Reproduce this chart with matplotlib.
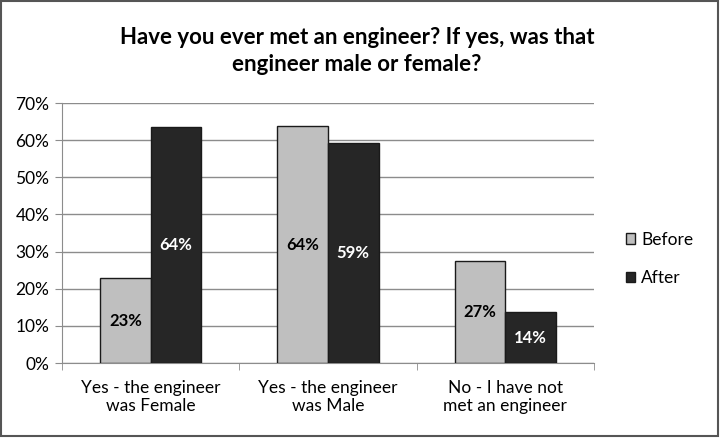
import matplotlib
matplotlib.use("Agg")
import matplotlib.pyplot as plt
import numpy as np
from matplotlib.patches import Rectangle

categories = ["Yes - the engineer\nwas Female", "Yes - the engineer\nwas Male", "No - I have not\nmet an engineer"]
before = [22.8, 63.7, 27.4]
after = [63.6, 59.1, 13.7]
before_labels = ["23%", "64%", "27%"]
after_labels = ["64%", "59%", "14%"]
yticks = [0, 10, 20, 30, 40, 50, 60, 70]

plt.rcParams['font.family'] = ['Lato', 'DejaVu Sans']

fig = plt.figure(figsize=(7.22, 4.38), dpi=100)
ax = fig.add_axes([62/722, 1-363/438, (594-62)/722, 260/438])

x = np.arange(len(categories))
w = 0.285
b1 = ax.bar(x - w/2, before, w, color="#BFBFBF", edgecolor="#1a1a1a", linewidth=1.0, label="Before", zorder=3)
b2 = ax.bar(x + w/2, after, w, color="#262626", edgecolor="#1a1a1a", linewidth=1.0, label="After", zorder=3)

for xi, v, lab in zip(x, before, before_labels):
    ax.text(xi - w/2, v/2, lab, ha="center", va="center", fontsize=12, fontweight="bold", color="black", zorder=4)
for xi, v, lab in zip(x, after, after_labels):
    ax.text(xi + w/2, v/2, lab, ha="center", va="center", fontsize=12, fontweight="bold", color="white", zorder=4)

ax.set_xlim(-0.5, 2.5)
ax.set_ylim(0, 70)
ax.set_yticks(yticks)
ax.set_yticklabels([f"{t}%" for t in yticks], fontsize=12.5)
ax.yaxis.grid(True, color="#8c8c8c", linewidth=1.0, zorder=0)
ax.set_axisbelow(True)
ax.set_xticks(x)
ax.set_xticklabels(categories, fontsize=12.5)
ax.tick_params(axis="x", length=0, pad=12)
ax.set_xticks([-0.5, 0.5, 1.5, 2.5], minor=True)
ax.tick_params(axis="x", which="minor", length=5, color="#8c8c8c")
ax.tick_params(axis="y", length=5, color="#8c8c8c", pad=4)
for s in ["top", "right"]:
    ax.spines[s].set_visible(False)
for s in ["left", "bottom"]:
    ax.spines[s].set_color("#8c8c8c")

fig.text(357/722, 1-51/438, "Have you ever met an engineer? If yes, was that\nengineer male or female?",
         ha="center", va="center", fontsize=16, fontweight="bold", linespacing=1.3)

leg = fig.legend(handles=[b1, b2], labels=["Before", "After"], loc="center left",
                 bbox_to_anchor=(610/722, 1-259/438), frameon=False, fontsize=12.5,
                 handlelength=0.55, handleheight=0.55, handletextpad=0.35, labelspacing=1.3)

fig.patches.append(Rectangle((0.002, 0.004), 0.993, 0.993, transform=fig.transFigure,
                             fill=False, edgecolor="#555555", linewidth=1.5))

fig.savefig("out.png", dpi=100)
